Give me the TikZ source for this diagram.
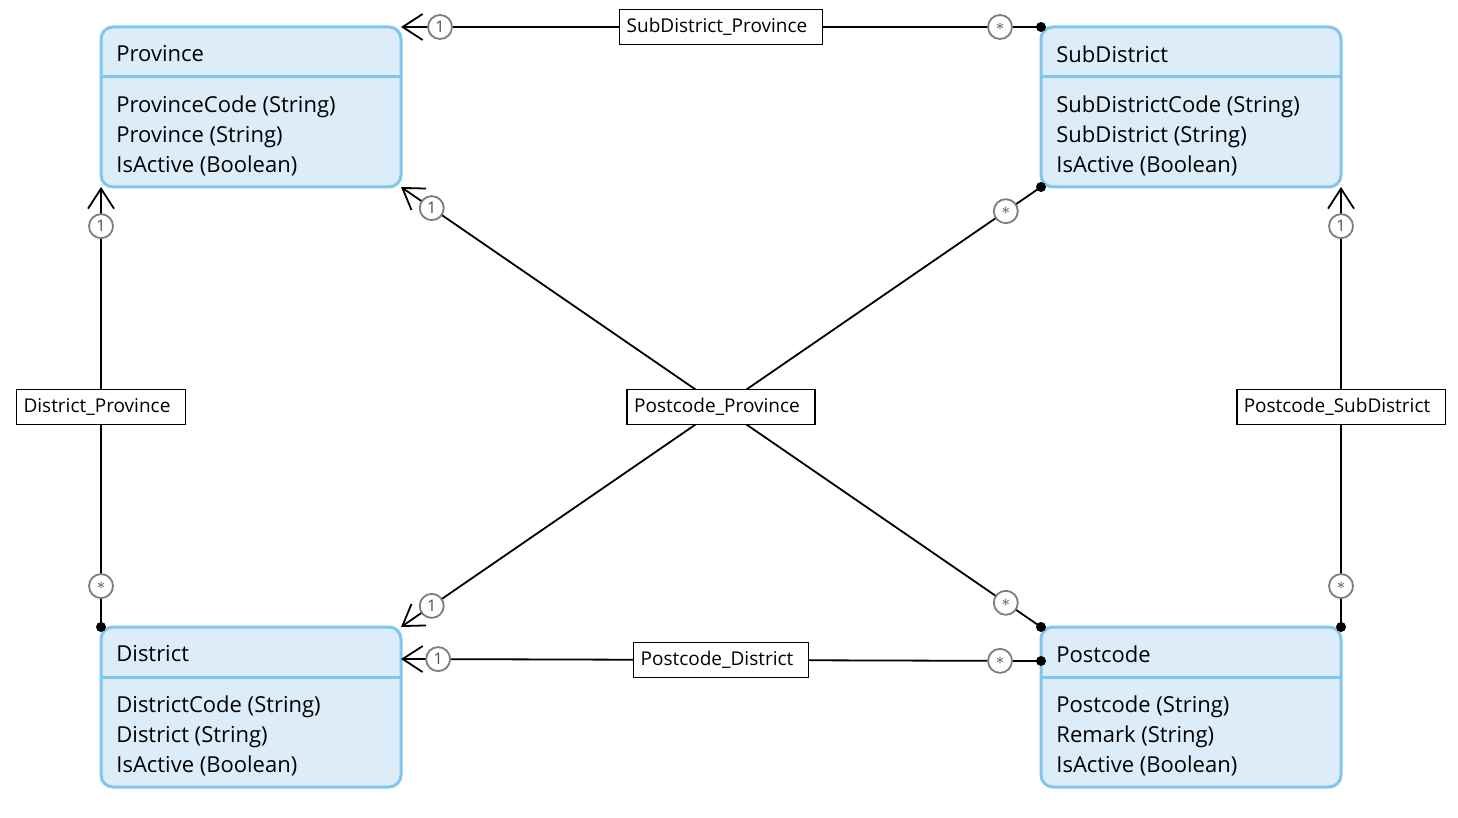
\documentclass[tikz,border=0pt]{standalone}
\usepackage{fontspec}
\setmainfont{Open Sans}
\usetikzlibrary{arrows.meta,positioning}
\definecolor{entline}{RGB}{128,198,238}
\definecolor{entfill}{RGB}{220,237,249}
\definecolor{multline}{RGB}{125,125,125}
\begin{document}
\begin{tikzpicture}
[x=0.5pt,y=-0.5pt,
 entity/.style={draw=entline,fill=entfill,line width=1.5pt,rounded corners=6pt,
   minimum width=150pt,minimum height=80pt,inner sep=0pt,outer sep=0pt},
 entsep/.style={draw=entline,line width=1.5pt},
 enttitle/.style={anchor=west,inner sep=0pt,font=\fontsize{11}{13}\selectfont},
 entattr/.style={anchor=west,inner sep=0pt,align=left,font=\fontsize{11}{15}\selectfont},
 assoc/.style={line width=0.9pt},
 toone/.style={-{Straight Barb[length=10pt,width=13pt,line width=0.9pt]}},
 lbl/.style={draw,fill=white,line width=0.75pt,minimum height=17.5pt,inner xsep=3.5pt,
   execute at end node={\hspace{4pt}},font=\fontsize{9.5}{11}\selectfont},
 mult/.style={circle,draw=multline,fill=white,line width=0.9pt,minimum size=12pt,
   inner sep=0pt,text=black!70,font=\fontsize{8}{9}\selectfont}]
\useasboundingbox (0,0) rectangle (1458,818);

% entities
\node[entity] (prov) at (251,107) {};
\node[enttitle] (provt) at ([xshift=7.5pt,yshift=-13.5pt]prov.north west) {Province};
\draw[entsep] ([yshift=-25pt]prov.north west) -- ([yshift=-25pt]prov.north east);
\node[entattr] (prova) at ([xshift=7.5pt,yshift=-54.5pt]prov.north west)
  {ProvinceCode (String)\\Province (String)\\IsActive (Boolean)};

\node[entity] (subd) at (1191,107) {};
\node[enttitle] (subdt) at ([xshift=7.5pt,yshift=-13.5pt]subd.north west) {SubDistrict};
\draw[entsep] ([yshift=-25pt]subd.north west) -- ([yshift=-25pt]subd.north east);
\node[entattr] (subda) at ([xshift=7.5pt,yshift=-54.5pt]subd.north west)
  {SubDistrictCode (String)\\SubDistrict (String)\\IsActive (Boolean)};

\node[entity] (dist) at (251,707) {};
\node[enttitle] (distt) at ([xshift=7.5pt,yshift=-13.5pt]dist.north west) {District};
\draw[entsep] ([yshift=-25pt]dist.north west) -- ([yshift=-25pt]dist.north east);
\node[entattr] (dista) at ([xshift=7.5pt,yshift=-54.5pt]dist.north west)
  {DistrictCode (String)\\District (String)\\IsActive (Boolean)};

\node[entity] (pc) at (1191,707) {};
\node[enttitle] (pct) at ([xshift=7.5pt,yshift=-13.5pt]pc.north west) {Postcode};
\draw[entsep] ([yshift=-25pt]pc.north west) -- ([yshift=-25pt]pc.north east);
\node[entattr] (pca) at ([xshift=7.5pt,yshift=-54.5pt]pc.north west)
  {Postcode (String)\\Remark (String)\\IsActive (Boolean)};

% associations
\draw[assoc,toone] (subd.north west)
  -- node[mult,pos=0.064] (sdpm) {$\ast$}
     node[lbl] (sdp) {SubDistrict\_Province}
     node[mult,pos=0.939] (sdpo) {1} (prov.north east);
\fill (subd.north west) circle (2.5pt);

\draw[assoc,toone] (dist.north west)
  -- node[mult,pos=0.093] (dpm) {$\ast$}
     node[lbl] (dp) {District\_Province}
     node[mult,pos=0.911] (dpo) {1} (prov.south west);
\fill (dist.north west) circle (2.5pt);

\draw[assoc,toone] (pc.north east)
  -- node[mult,pos=0.093] (psm) {$\ast$}
     node[lbl] (ps) {Postcode\_SubDistrict}
     node[mult,pos=0.911] (pso) {1} (subd.south east);
\fill (pc.north east) circle (2.5pt);

\coordinate (pcw) at ([yshift=-17pt]pc.north west);
\coordinate (diste) at ([yshift=-16pt]dist.north east);
\draw[assoc,toone] (pcw)
  -- node[mult,pos=0.064] (pdm) {$\ast$}
     node[lbl] (pd) {Postcode\_District}
     node[mult,pos=0.942] (pdo) {1} (diste);
\fill (pcw) circle (2.5pt);

\draw[assoc,toone] (subd.south west)
  -- node[mult,pos=0.055] (sdm) {$\ast$}
     node[mult,pos=0.952] (sdo) {1} (dist.north east);
\fill (subd.south west) circle (2.5pt);

\draw[assoc,toone] (pc.north west)
  -- node[mult,pos=0.055] (ppm) {$\ast$}
     node[lbl] (pp) {Postcode\_Province}
     node[mult,pos=0.952] (ppo) {1} (prov.south east);
\fill (pc.north west) circle (2.5pt);
\end{tikzpicture}
\end{document}
